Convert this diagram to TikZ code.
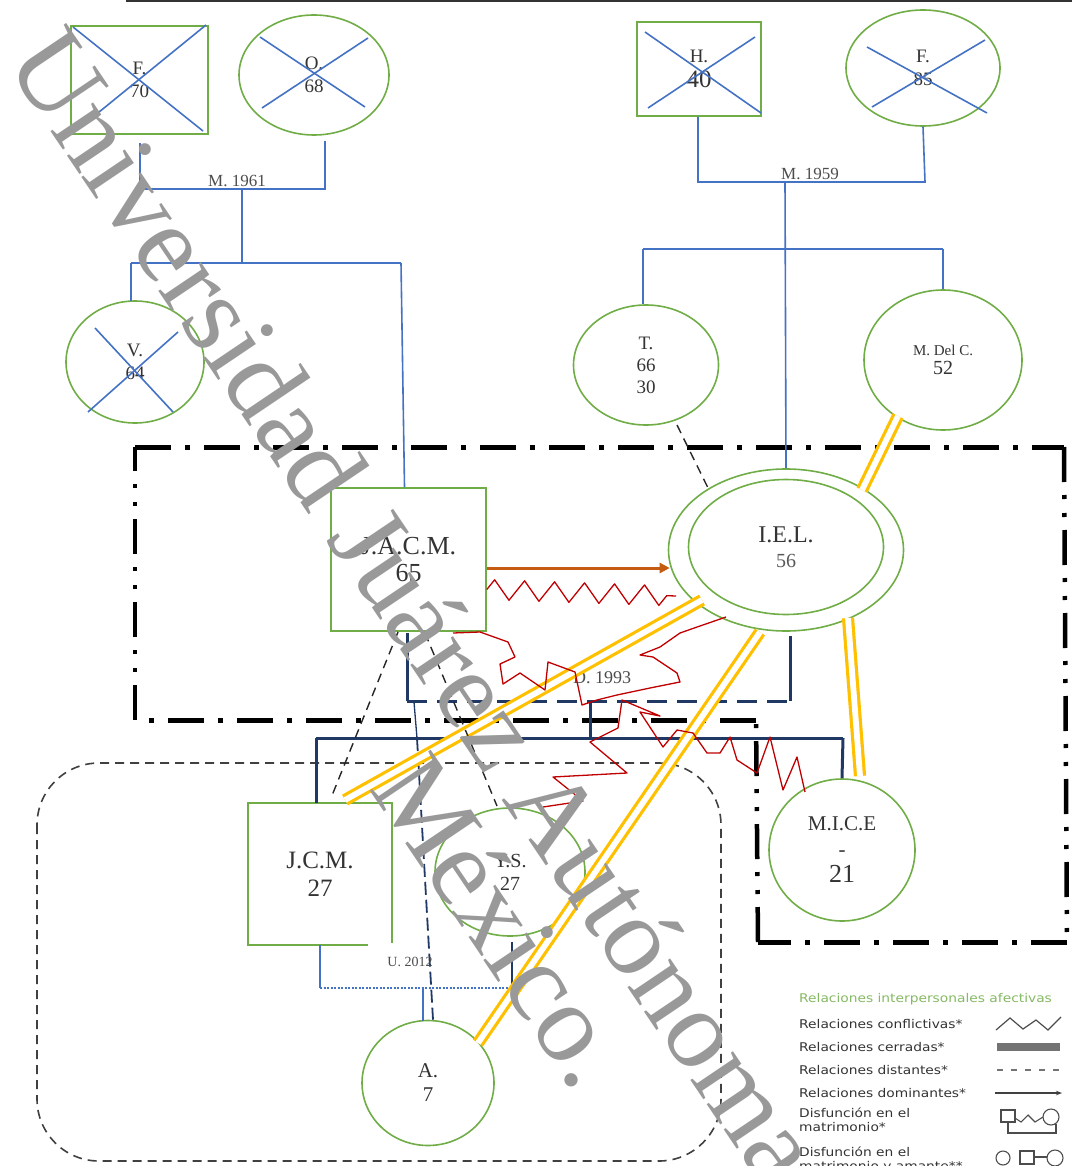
\documentclass[tikz,border=0pt]{standalone}
\usepackage{fontspec}
\setmainfont{Liberation Serif}
\newfontfamily\legfont[FakeStretch=1.15]{DejaVu Sans}
\usetikzlibrary{shapes.geometric,arrows.meta,decorations.pathmorphing,calc}
\definecolor{pgreen}{HTML}{70AD47}
\definecolor{lblue}{HTML}{4472C4}
\definecolor{navy}{HTML}{203864}
\definecolor{cred}{HTML}{C00000}
\definecolor{corange}{HTML}{C55A11}
\definecolor{gold}{HTML}{FFC000}
\definecolor{txt}{HTML}{333333}
\begin{document}
\begin{tikzpicture}[x=1pt,y=-1pt,
  male/.style={draw=pgreen, line width=1.6pt, rectangle, inner sep=0pt, align=center, text=txt, font=\fontsize{19}{23}\selectfont},
  female/.style={draw=pgreen, line width=1.6pt, ellipse, inner sep=0pt, align=center, text=txt, font=\fontsize{19}{23}\selectfont},
  crossline/.style={draw=lblue, line width=1.6pt},
  famline/.style={draw=lblue, line width=1.6pt},
  navyline/.style={draw=navy, line width=3pt},
  closerel/.style={draw=gold, line width=3.2pt, double=white, double distance=5.8pt},
  distrel/.style={draw=black!85, line width=1.4pt, dash pattern=on 9pt off 6pt},
  conflict/.style={draw=cred, line width=1.3pt, line join=round},
  lab/.style={inner sep=1pt, text=black!70},
  leg/.style={anchor=west, inner sep=0pt, font=\legfont\fontsize{12}{14}\selectfont, text=black!80, align=left},
  dashdoth/.style={draw=black, line width=5pt, dash pattern=on 36pt off 14pt on 5pt off 14pt},
  dashdotv/.style={draw=black, line width=4.5pt, dash pattern=on 35pt off 13pt on 4pt off 14pt on 4pt off 13pt},
  wm/.style={inner sep=0pt, text=black!40, font=\fontsize{112}{112}\selectfont}
]
\useasboundingbox (0,0) rectangle (1072,1166);

% top rule
\draw[black!80, line width=2pt] (126,1) -- (1072,1);

% ---------- enclosing boxes ----------
\draw[dashdoth] (135,447) -- (1064,447);
\draw[dashdotv] (1064,447) -- (1067,942);
\draw[dashdoth] (1067,942) -- (758,942);
\draw[dashdotv] (758,942) -- (756,718);
\draw[dashdoth] (756,720) -- (135,720);
\draw[dashdotv] (135,720) -- (135,447);
\draw[black!75, line width=1.6pt, dash pattern=on 9pt off 6pt, rounded corners=62pt] (37,763) rectangle (721,1161);

% ---------- persons ----------
\node[male, minimum width=137pt, minimum height=108pt] (pF) at (139.5,80) {F.\\70};
\node[female, minimum width=150pt, minimum height=120pt] (pO) at (314,75) {O.\\68};
\node[male, minimum width=124pt, minimum height=94pt, font=\fontsize{19}{25}\selectfont] (pH) at (699,69) {H.\\{\fontsize{25}{25}\selectfont 40}};
\node[female, minimum width=154pt, minimum height=116pt] (pF2) at (923,68) {F.\\85};
\node[female, minimum width=138pt, minimum height=122pt] (pV) at (135,362) {V.\\64};
\node[female, minimum width=145pt, minimum height=120pt, font=\fontsize{19}{22}\selectfont] (pT) at (646,365) {T.\\66\\30};
\node[female, minimum width=158pt, minimum height=140pt, font=\fontsize{15}{19}\selectfont] (pMDC) at (943,360) {M. Del C.\\{\fontsize{20}{20}\selectfont 52}};
\node[female, minimum width=235pt, minimum height=162pt] (pIEL) at (786,550) {};
\node[female, minimum width=195pt, minimum height=135pt, font=\fontsize{24}{25}\selectfont] (pIELi) at (786,547) {I.E.L.\\{\fontsize{20}{20}\selectfont\color{black!65}56}};
\node[male, minimum width=155pt, minimum height=143pt, font=\fontsize{26}{27}\selectfont] (pJACM) at (408.5,559.5) {J.A.C.M.\\65};
\node[inner sep=0pt, minimum width=144pt, minimum height=142pt, align=center, text=txt, font=\fontsize{25}{28}\selectfont] (pJCM) at (320,874) {J.C.M.\\27};
\draw[pgreen, line width=1.6pt] ($(pJCM.south east)+(-24,0)$) -- (pJCM.south west) -- (pJCM.north west) -- (pJCM.north east) -- ($(pJCM.south east)+(0,-2)$);
\node[female, minimum width=150pt, minimum height=128pt, font=\fontsize{20}{23}\selectfont] (pYS) at (510,872) {Y.S.\\27};
\node[female, minimum width=132pt, minimum height=125pt, font=\fontsize{21}{24}\selectfont] (pA) at (428,1083) {A.\\7};
\node[female, minimum width=146pt, minimum height=142pt, font=\fontsize{21}{26}\selectfont] (pMICE) at (842,850) {M.I.C.E\\-\\{\fontsize{26}{26}\selectfont 21}};

% crosses (deceased)
\draw[crossline] (73,27) -- (203,131);
\draw[crossline] (77,130) -- (206,25);
\draw[crossline] (260,37) -- (365,107);
\draw[crossline] (262,108) -- (368,38);
\draw[crossline] (645,32) -- (761,113);
\draw[crossline] (648,108) -- (755,37);
\draw[crossline] (867,47) -- (987,113);
\draw[crossline] (872,107) -- (985,40);
\draw[crossline] (95,328) -- (173,412);
\draw[crossline] (178,332) -- (88,412);

% ---------- family lines ----------
\coordinate (m61) at (242,189);
\draw[famline] ($(pF.south)+(0.5,8)$) -- (140,189) -- (325,189) -- ($(pO.south)+(11,5)$);
\node[lab, font=\fontsize{17}{17}\selectfont, anchor=base] (l61) at (237,187) {M. 1961};
\draw[famline] (m61) -- (242,263);
\draw[famline] (131,263) -- (401,263);
\draw[famline] (131,263) -- ($(pV.north)+(-4,1)$);
\draw[famline] (401,263) -- ($(pJACM.north)+(-4,0)$);

\coordinate (m59) at (785,182);
\draw[famline] ($(pH.south)+(-1,0)$) -- (698,182) -- (925,182) -- (pF2.south);
\node[lab, font=\fontsize{17}{17}\selectfont, anchor=base] (l59) at (810,180) {M. 1959};
\draw[famline] (m59) -- (pIEL.north);
\draw[famline] (643,249) -- (943,249);
\draw[famline] (643,249) -- ($(pT.north)+(-3,0)$);
\draw[famline] (943,249) -- (pMDC.north);

% ---------- union J.A.C.M. - I.E.L. ----------
\coordinate (u93L) at (407,701);
\coordinate (u93R) at (790,701);
\draw[navyline] ($(pJACM.south)+(-1.5,1)$) -- (u93L);
\draw[navyline, dash pattern=on 20pt off 10pt] (u93L) -- (u93R);
\draw[navyline] (u93R) -- (790,636);
\node[lab, font=\fontsize{18}{18}\selectfont, anchor=base] (l93) at (602,683) {D. 1993};
\draw[navyline] (590,701) -- (590,738);
\draw[navyline] (316,738) -- (843,738);
\draw[navyline] (316,738) -- ($(pJCM.north)+(-4,0)$);
\draw[navyline] (843,738) -- (pMICE.north);
\draw[navy, line width=1.3pt] (414,702) -- (417,738);
\draw[navy, line width=1.8pt, dash pattern=on 13pt off 5pt] (417,738) -- ($(pA.north)+(5,0)$);

% ---------- union J.C.M. - Y.S. ----------
\draw[lblue, line width=1.3pt] (pJCM.south) -- (320,988);
\draw[lblue, line width=1.3pt, dash pattern=on 2pt off 1.5pt] (320,988) -- (515,988);
\draw[navy, line width=1.5pt] ($(pYS.south)+(2,5)$) -- (512,988);
\node[lab, font=\fontsize{14}{14}\selectfont, anchor=base] (l12) at (410,966) {U. 2012};
\draw[lblue, line width=1.5pt] (423,988) -- ($(pA.north)+(-5,1)$);

% ---------- emotional relations ----------
\draw[closerel] (898,416) -- (862,490);
\draw[closerel] (702,600) -- (345,800);
\draw[closerel] (760,632) -- (478,1043);
\draw[closerel] (848,618) -- (860,776);

\draw[distrel] (677,425) -- (710,492);
\draw[distrel] (398,632) -- (331,798);
\draw[distrel] (425,633) -- (497,806);

\draw[corange, line width=3pt, -{Triangle[length=10pt,width=10pt]}] ($(pJACM.east)+(0,8.5)$) -- ($(pIEL.west)+(2,18)$);
\draw[conflict, decorate, decoration={zigzag, segment length=30pt, amplitude=10pt}] ($(pJACM.east)+(0,30)$) -- (676,596);
\draw[conflict] (453,633) -- (480,632) -- (508,642) -- (515,657) -- (500,664) -- (503,684) -- (520,673) -- (545,690) -- (548,662) -- (575,672) -- (582,705) -- (597,700) -- (617,695) -- (650,688) -- (680,682) -- (677,673) -- (653,657) -- (640,655) -- (660,647) -- (680,633) -- (700,626) -- (726,617);
\draw[conflict] (543,807) -- (583,801) -- (553,777) -- (627,773) -- (590,742) -- (618,728) -- (622,700) -- (660,716) -- (640,712) -- (663,747) -- (677,730) -- (693,733) -- (707,753) -- (720,753) -- (730,737) -- (737,760) -- (757,773) -- (770,737) -- (783,790) -- (797,757) -- (805,792);

% ---------- legend ----------
\node[leg, text=pgreen!85!white] (L0) at (799,999) {Relaciones interpersonales afectivas};
\node[leg] (L1) at (799,1024) {Relaciones conflictivas*};
\node[leg] (L2) at (799,1047) {Relaciones cerradas*};
\node[leg] (L3) at (799,1070) {Relaciones distantes*};
\node[leg] (L4) at (799,1093) {Relaciones dominantes*};
\node[leg] (L5) at (799,1120) {Disfunción en el\\matrimonio*};
\node[leg] (L6) at (799,1160) {Disfunción en el\\matrimonio y amante**};
\draw[black!70, line width=1.2pt] (996,1030) -- (1010,1018) -- (1023,1029) -- (1036,1020) -- (1048,1030) -- (1061,1017);
\fill[black!55] (997,1043) rectangle (1060,1051);
\draw[black!55, line width=1.5pt, dash pattern=on 6pt off 8pt] (997,1070) -- (1062,1070);
\draw[black!75, line width=1.2pt, -{Stealth[length=6pt]}] (995,1093) -- (1062,1093);
\draw[black!70, line width=1.1pt] (1001,1110) rectangle (1015,1122);
\draw[black!70, line width=1.1pt] (1051,1117) circle[radius=8];
\draw[black!70, line width=1.1pt] (1015,1118) -- (1021,1122) -- (1028,1115) -- (1035,1122) -- (1043,1117);
\draw[black!70, line width=1.1pt] (1008,1122) -- (1008,1133) -- (1056,1133) -- (1056,1124);
\draw[black!70, line width=1.1pt] (1003,1158) circle[radius=7];
\draw[black!70, line width=1.1pt] (1020,1151) rectangle (1034,1164);
\draw[black!70, line width=1.1pt] (1034,1157) -- (1047,1157);
\draw[black!70, line width=1.1pt] (1055,1158) circle[radius=8];

% ---------- watermark ----------
\node[wm, rotate=-56, anchor=base west] (wm1) at (4,62) {Universidad Juárez Autónoma};
\node[wm, rotate=-56, anchor=base west] (wm2) at (368,788) {México.};
\end{tikzpicture}
\end{document}
